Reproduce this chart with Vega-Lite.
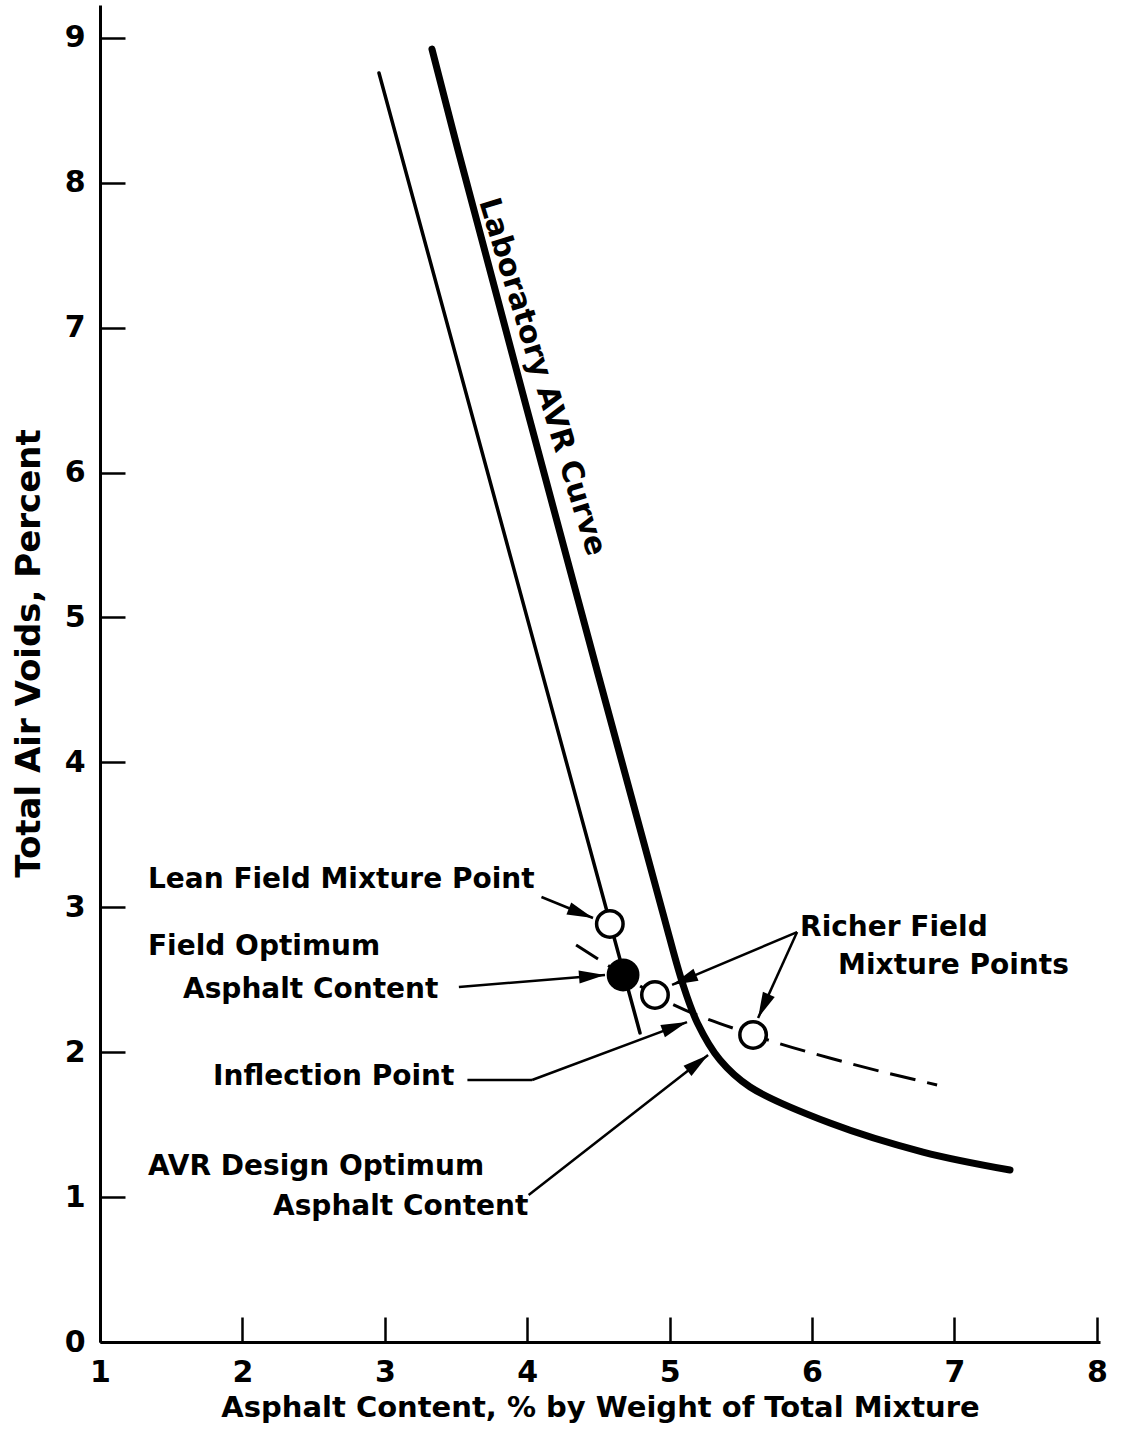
{
  "$schema": "https://vega.github.io/schema/vega-lite/v6.json",
  "autosize": {"type": "none"},
  "padding": {"left": 100, "top": 5, "right": 32, "bottom": 92},
  "width": 1000,
  "height": 1337,
  "background": "white",
  "config": {
    "view": {"stroke": null},
    "font": "DejaVu Sans",
    "axis": {
      "grid": false,
      "domainColor": "black",
      "domainWidth": 3,
      "tickColor": "black",
      "tickWidth": 2.5,
      "tickSize": -25,
      "labelColor": "black",
      "labelFont": "DejaVu Sans",
      "labelFontWeight": "bold",
      "labelFontSize": 30,
      "labelFlush": false,
      "titleColor": "black",
      "titleFont": "DejaVu Sans",
      "titleFontWeight": "bold"
    }
  },
  "datasets": {
    "thin": [
      {"x": 2.959, "y": 8.758},
      {"x": 4.792, "y": 2.133}
    ],
    "thick": [
      {"x": 3.331, "y": 8.923},
      {"x": 3.514, "y": 8.226},
      {"x": 4.357, "y": 5.121},
      {"x": 4.947, "y": 2.981},
      {"x": 5.09, "y": 2.478},
      {"x": 5.195, "y": 2.202},
      {"x": 5.354, "y": 1.946},
      {"x": 5.565, "y": 1.760},
      {"x": 6.126, "y": 1.511},
      {"x": 6.779, "y": 1.311},
      {"x": 7.390, "y": 1.187}
    ],
    "dashed": [
      {"x": 4.343, "y": 2.740},
      {"x": 4.673, "y": 2.533},
      {"x": 4.897, "y": 2.395},
      {"x": 5.586, "y": 2.119},
      {"x": 6.176, "y": 1.946},
      {"x": 6.878, "y": 1.774}
    ],
    "open": [
      {"x": 4.58, "y": 2.885},
      {"x": 4.897, "y": 2.395},
      {"x": 5.586, "y": 2.119}
    ],
    "filled": [
      {"x": 4.673, "y": 2.533}
    ],
    "leaders": [
      {"x": 4.10, "y": 3.071, "x2": 4.462, "y2": 2.926},
      {"x": 3.52, "y": 2.450, "x2": 4.546, "y2": 2.533},
      {"x": 5.895, "y": 2.829, "x2": 5.017, "y2": 2.464},
      {"x": 5.895, "y": 2.829, "x2": 5.621, "y2": 2.236},
      {"x": 3.58, "y": 1.808, "x2": 4.034, "y2": 1.808},
      {"x": 4.034, "y": 1.808, "x2": 5.122, "y2": 2.208},
      {"x": 4.01, "y": 1.014, "x2": 5.270, "y2": 1.981}
    ],
    "labels": [
      {"x": 1.337, "y": 3.188, "text": "Lean Field Mixture Point"},
      {"x": 1.337, "y": 2.726, "text": "Field Optimum"},
      {"x": 1.583, "y": 2.429, "text": "Asphalt Content"},
      {"x": 1.794, "y": 1.829, "text": "Inflection Point"},
      {"x": 1.337, "y": 1.208, "text": "AVR Design Optimum"},
      {"x": 2.215, "y": 0.932, "text": "Asphalt Content"},
      {"x": 5.916, "y": 2.857, "text": "Richer Field"},
      {"x": 6.183, "y": 2.595, "text": "Mixture Points"}
    ]
  },
  "encoding": {
    "x": {
      "field": "x", "type": "quantitative",
      "scale": {"domain": [1, 8.022], "nice": false, "zero": false},
      "axis": {
        "values": [1, 2, 3, 4, 5, 6, 7, 8],
        "format": "d",
        "title": "Asphalt Content, % by Weight of Total Mixture",
        "titleFontSize": 29,
        "labelPadding": 40,
        "titlePadding": 6
      }
    },
    "y": {
      "field": "y", "type": "quantitative",
      "scale": {"domain": [0, 9.227], "nice": false, "zero": false},
      "axis": {
        "values": [0, 1, 2, 3, 4, 5, 6, 7, 8, 9],
        "format": "d",
        "title": "Total Air Voids, Percent",
        "titleFontSize": 34,
        "titleY": 648,
        "labelPadding": 40,
        "titlePadding": 18
      }
    }
  },
  "layer": [
    {
      "data": {"name": "thin"},
      "mark": {"type": "line", "color": "black", "strokeWidth": 3.5, "strokeCap": "round"}
    },
    {
      "data": {"name": "thick"},
      "mark": {"type": "line", "color": "black", "strokeWidth": 7, "strokeCap": "round", "interpolate": "catmull-rom"}
    },
    {
      "data": {"name": "dashed"},
      "mark": {"type": "line", "color": "black", "strokeWidth": 3, "strokeDash": [26, 12], "interpolate": "monotone"}
    },
    {
      "data": {"name": "leaders"},
      "mark": {"type": "rule", "color": "black", "strokeWidth": 2.5},
      "encoding": {"x2": {"field": "x2"}, "y2": {"field": "y2"}}
    },
    {
      "data": {"name": "open"},
      "mark": {"type": "point", "shape": "circle", "filled": true, "fill": "white", "stroke": "black", "strokeWidth": 3.5, "size": 700, "opacity": 1}
    },
    {
      "data": {"name": "filled"},
      "mark": {"type": "point", "shape": "circle", "filled": true, "fill": "black", "stroke": "black", "strokeWidth": 2, "size": 950, "opacity": 1}
    },
    {
      "data": {"values": [{"x": 4.462, "y": 2.926}]},
      "mark": {"type": "point", "shape": "M0,0L0.5,2L-0.5,2Z", "filled": true, "color": "black", "opacity": 1, "size": 676, "angle": 111.6}
    },
    {
      "data": {"values": [{"x": 4.546, "y": 2.533}]},
      "mark": {"type": "point", "shape": "M0,0L0.5,2L-0.5,2Z", "filled": true, "color": "black", "opacity": 1, "size": 676, "angle": 85.4}
    },
    {
      "data": {"values": [{"x": 5.017, "y": 2.464}]},
      "mark": {"type": "point", "shape": "M0,0L0.5,2L-0.5,2Z", "filled": true, "color": "black", "opacity": 1, "size": 676, "angle": 247}
    },
    {
      "data": {"values": [{"x": 5.621, "y": 2.236}]},
      "mark": {"type": "point", "shape": "M0,0L0.5,2L-0.5,2Z", "filled": true, "color": "black", "opacity": 1, "size": 676, "angle": 204.4}
    },
    {
      "data": {"values": [{"x": 5.122, "y": 2.208}]},
      "mark": {"type": "point", "shape": "M0,0L0.5,2L-0.5,2Z", "filled": true, "color": "black", "opacity": 1, "size": 676, "angle": 69.5}
    },
    {
      "data": {"values": [{"x": 5.270, "y": 1.981}]},
      "mark": {"type": "point", "shape": "M0,0L0.5,2L-0.5,2Z", "filled": true, "color": "black", "opacity": 1, "size": 676, "angle": 52.3}
    },
    {
      "data": {"name": "labels"},
      "mark": {"type": "text", "align": "left", "baseline": "middle", "font": "DejaVu Sans", "fontWeight": "bold", "fontSize": 28, "color": "black"},
      "encoding": {"text": {"field": "text"}}
    },
    {
      "data": {"values": [{"x": 4.104, "y": 6.66, "text": "Laboratory AVR Curve"}]},
      "mark": {"type": "text", "align": "center", "baseline": "middle", "font": "DejaVu Sans", "fontWeight": "bold", "fontSize": 30, "color": "black", "angle": 73},
      "encoding": {"text": {"field": "text"}}
    }
  ]
}
